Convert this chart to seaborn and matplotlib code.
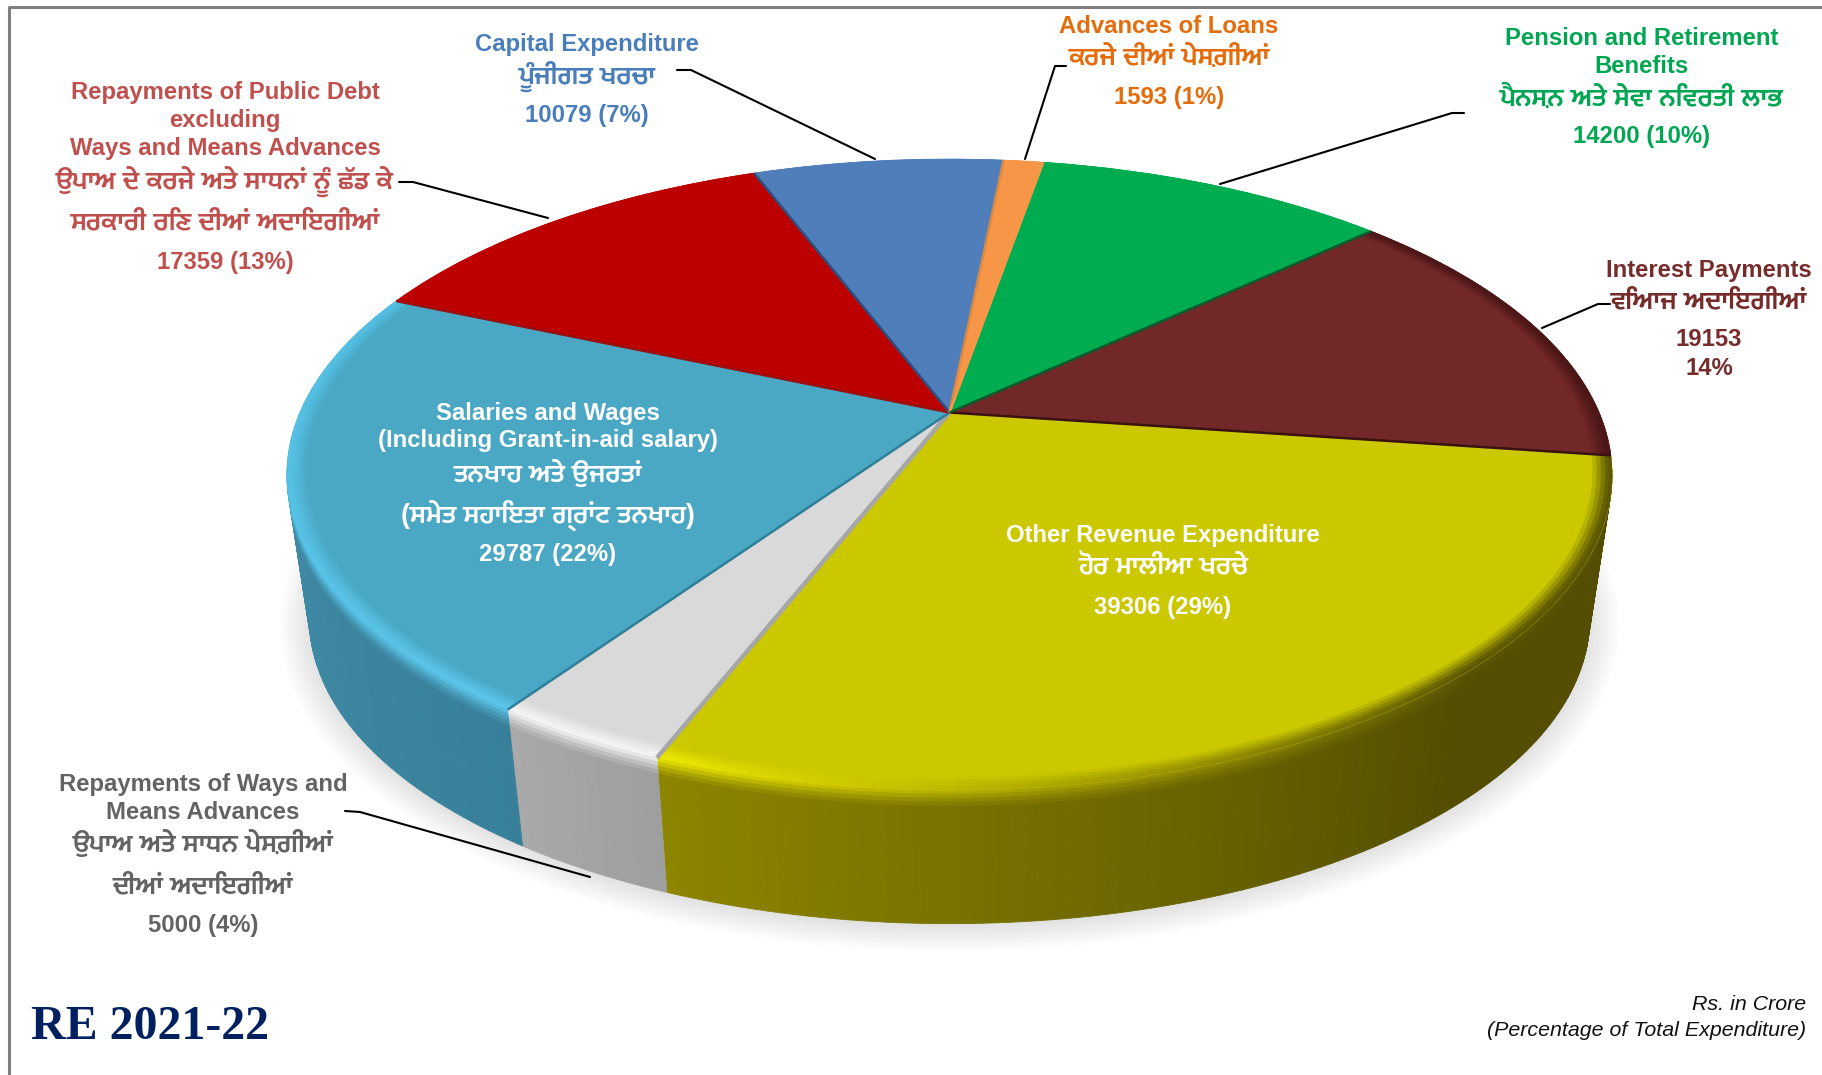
import numpy as np
import seaborn as sns
import matplotlib.pyplot as plt
from matplotlib.collections import PolyCollection
from matplotlib.colors import to_rgb
from matplotlib.transforms import Transform

# Data (Rs. in Crore), clockwise from the right hand side of the pie
categories = ['Other Revenue Expenditure', 'Repayments of Ways and Means Advances',
              'Salaries and Wages', 'Repayments of Public Debt', 'Capital Expenditure',
              'Advances of Loans', 'Pension and Retirement Benefits', 'Interest Payments']
values = [39306, 5000, 29787, 17359, 10079, 1593, 14200, 19153]
top_colors = ['#CCC800', '#D9D9D9', '#4AA8C4', '#BC0000', '#4F7EBA', '#F79646', '#00AC50', '#722828']
wall_from = ['#8C8500', '#A9A9A9', '#4593AE', '#6E0000', '#2F4F78', '#A86020', '#006E33', '#3A1212']
wall_to = ['#524D00', '#9E9E9E', '#38809A', '#6E0000', '#2F4F78', '#A86020', '#006E33', '#3A1212']
rim_from = ['#EDE800', '#F4F4F4', '#52BFE4', '#BC0000', '#4F7EBA', '#F79646', '#00AC50', '#4A1616']
rim_to = ['#5A5500', '#F4F4F4', '#5CC6EA', '#BC0000', '#4F7EBA', '#F79646', '#00AC50', '#4A1616']
edge_colors = ['#3A1212', '#A6A6A6', '#2F7F99', '#9A1010', '#2A4F7F', '#D98A45', '#F79646', '#0A5A2E']

labels_capital = ['Capital Expenditure', 'ਪੂੰਜੀਗਤ ਖਰਚਾ', '10079 (7%)']
labels_debt = ['Repayments of Public Debt', 'excluding', 'Ways and Means Advances',
               'ਉਪਾਅ ਦੇ ਕਰਜੇ ਅਤੇ ਸਾਧਨਾਂ ਨੂੰ ਛੱਡ ਕੇ', 'ਸਰਕਾਰੀ ਰਿਣ ਦੀਆਂ ਅਦਾਇਗੀਆਂ', '17359 (13%)']
labels_loans = ['Advances of Loans', 'ਕਰਜੇ ਦੀਆਂ ਪੇਸ਼ਗੀਆਂ', '1593 (1%)']
labels_pension = ['Pension and Retirement', 'Benefits', 'ਪੈਨਸ਼ਨ ਅਤੇ ਸੇਵਾ ਨਿਵਰਤੀ ਲਾਭ', '14200 (10%)']
labels_interest = ['Interest Payments', 'ਵਿਆਜ ਅਦਾਇਗੀਆਂ', '19153', '14%']
labels_salary = ['Salaries and Wages', '(Including Grant-in-aid salary)', 'ਤਨਖਾਹ ਅਤੇ ਉਜਰਤਾਂ',
                 '(ਸਮੇਤ ਸਹਾਇਤਾ ਗ੍ਰਾਂਟ ਤਨਖਾਹ)', '29787 (22%)']
labels_other = ['Other Revenue Expenditure', 'ਹੋਰ ਮਾਲੀਆ ਖਰਚੇ', '39306 (29%)']
labels_ways = ['Repayments of Ways and', 'Means Advances', 'ਉਪਾਅ ਅਤੇ ਸਾਧਨ ਪੇਸ਼ਗੀਆਂ',
               'ਦੀਆਂ ਅਦਾਇਗੀਆਂ', '5000 (4%)']

TILT = 0.197


def project(u, v, cx=949.5, cy=412.5, rx=649.6, ry=303.3):
    # circle -> perspective ellipse in picture pixels
    d = 1 + TILT * v
    return cx + rx * u / d, cy - ry * v / d


def project_bottom(u, v):
    return project(u, v, cy=559.0, rx=627.5, ry=292.8)


class TopFace(Transform):
    input_dims = 2
    output_dims = 2
    is_separable = False
    has_inverse = False

    def transform_non_affine(self, values):
        x, y = project(values[:, 0], values[:, 1])
        return np.column_stack([x, y])


def mix(a, b, t):
    return tuple((1 - t) * p + t * q for p, q in zip(to_rgb(a), to_rgb(b)))


sns.set_theme(style='white')
plt.rcParams['font.family'] = ['Liberation Sans', 'Mukta Mahee', 'DejaVu Sans']

fig, ax = plt.subplots(figsize=(18.22, 10.75), dpi=100)
fig.subplots_adjust(0, 0, 1, 1)

wedges, _ = ax.pie(values, colors=sns.color_palette(top_colors), startangle=-7.9,
                   counterclock=False, wedgeprops={'linewidth': 0.6})
ax.set_aspect('auto')
ax.set_xlim(0, 1822)
ax.set_ylim(1075, 0)
ax.set_axis_off()

face = TopFace() + ax.transData
for w, c in zip(wedges, top_colors):
    w.set_transform(face)
    w.set_edgecolor(c)
    w.set_zorder(3)

# soft shadow under the pie
ring = np.radians(np.arange(0, 361, 2))
for k in range(10):
    x, y = project(np.cos(ring), np.sin(ring), cy=561.0, rx=627.5 + 3.2 * k, ry=292.8 + 2.3 * k)
    ax.fill(x, y, color='#000000', alpha=0.013, lw=0, zorder=1)

# side wall below the top face, bevel above it: one small quad per degree
wall_polys, wall_cols, bevel_polys, bevel_cols = [], [], [], []
wall_steps = [(0, .03, .15), (.03, .06, .4), (.06, .09, .65), (.09, .12, .85), (.12, 1, 1)]
bevel_steps = [(.972, .978, .2), (.978, .984, .45), (.984, .99, .7), (.99, .995, .9), (.995, 1.0, 1)]
for i, w in enumerate(wedges):
    th = np.radians(np.arange(w.theta1, w.theta2, 1.0).tolist() + [w.theta2])
    span = w.theta2 - w.theta1
    for a0, a1 in zip(th[:-1], th[1:]):
        t = (np.degrees(a0) - w.theta1) / span
        if i == 0:
            t = min(1, t / 0.62)
        base = mix(wall_from[i], wall_to[i], t)
        rim = mix(rim_from[i], rim_to[i], t)
        # only the part of the wall that faces the viewer
        if max(np.sin(a0), np.sin(a1)) <= -0.17:
            x0, y0 = project(np.cos(a0), np.sin(a0))
            x1, y1 = project(np.cos(a1), np.sin(a1))
            x2, y2 = project_bottom(np.cos(a1), np.sin(a1))
            x3, y3 = project_bottom(np.cos(a0), np.sin(a0))
            for s0, s1, m in wall_steps:
                wall_polys.append([(x0 + s0 * (x3 - x0), y0 + s0 * (y3 - y0)),
                                   (x1 + s0 * (x2 - x1), y1 + s0 * (y2 - y1)),
                                   (x1 + s1 * (x2 - x1), y1 + s1 * (y2 - y1)),
                                   (x0 + s1 * (x3 - x0), y0 + s1 * (y3 - y0))])
                wall_cols.append(mix(rim, base, m))
        for r0, r1, m in bevel_steps:
            xa, ya = project(r0 * np.cos(a0), r0 * np.sin(a0))
            xb, yb = project(r0 * np.cos(a1), r0 * np.sin(a1))
            xc, yc = project(r1 * np.cos(a1), r1 * np.sin(a1))
            xd, yd = project(r1 * np.cos(a0), r1 * np.sin(a0))
            bevel_polys.append([(xa, ya), (xb, yb), (xc, yc), (xd, yd)])
            bevel_cols.append(mix(top_colors[i], rim, m))

ax.add_collection(PolyCollection(wall_polys, facecolors=wall_cols, edgecolors=wall_cols,
                                 linewidths=0.6, zorder=2))
ax.add_collection(PolyCollection(bevel_polys, facecolors=bevel_cols, edgecolors=bevel_cols,
                                 linewidths=0.3, zorder=4))

# dark/light lines between the slices
for w, c in zip(wedges, edge_colors):
    a = np.radians(w.theta2)
    x, y = project(np.array([0, np.cos(a)]), np.array([0, np.sin(a)]))
    ax.plot(x, y, color=c, lw=1.8 if c != '#A6A6A6' else 3.2, zorder=5, solid_capstyle='butt')

# leader lines
leaders = [[(677, 70), (691, 70), (875, 159)],
           [(399, 182), (413, 182), (548, 218)],
           [(1066, 66), (1055, 66), (1025, 159)],
           [(1464, 113), (1452, 113), (1220, 184)],
           [(1610, 304), (1598, 304), (1542, 328)],
           [(345, 811), (360, 812), (590, 877)]]
for pts in leaders:
    ax.plot(*zip(*pts), color='black', lw=1.5, zorder=6)


def put_lines(lines, x, ys, color):
    for line, y in zip(lines, ys):
        gurmukhi = any('\u0a00' <= ch <= '\u0a7f' for ch in line)
        ax.text(x, (y + 1.5) * 1.162, line, color=color, fontsize=19.4 if gurmukhi else 17.2,
                fontweight='bold', ha='center', va='center', zorder=7)


put_lines(labels_capital, 587, [37, 64, 98], '#4A7EBB')
put_lines(labels_debt, 225, [78, 102, 126, 155, 190, 224], '#C0504D')
put_lines(labels_loans, 1169, [21, 48, 82], '#E46C0A')
put_lines(labels_pension, 1642, [32, 56, 83, 116], '#00A651')
put_lines(labels_interest, 1709, [231, 258, 291, 316], '#772C2C')
put_lines(labels_salary, 548, [354, 378, 406, 442, 476], 'white')
put_lines(labels_other, 1163, [459, 487, 521], 'white')
put_lines(labels_ways, 203, [674, 698, 725, 761, 795], '#636363')

ax.text(31, 1027, 'RE 2021-22', family='Liberation Serif', fontweight='bold', fontsize=34.5,
        color='#002060', ha='left', va='center', zorder=7)
ax.text(1806, 1005, 'Rs. in Crore', fontstyle='italic', fontsize=15.4, color='#111111',
        ha='right', va='center', zorder=7)
ax.text(1806, 1030, '(Percentage of Total Expenditure)', fontstyle='italic', fontsize=15.4,
        color='#111111', ha='right', va='center', zorder=7)

# frame of the slide
ax.plot([8.5, 8.5, 1822], [1075, 7, 7], color='#7F7F7F', lw=2.2, zorder=8)

fig.savefig('out.png', dpi=100, facecolor='white')
